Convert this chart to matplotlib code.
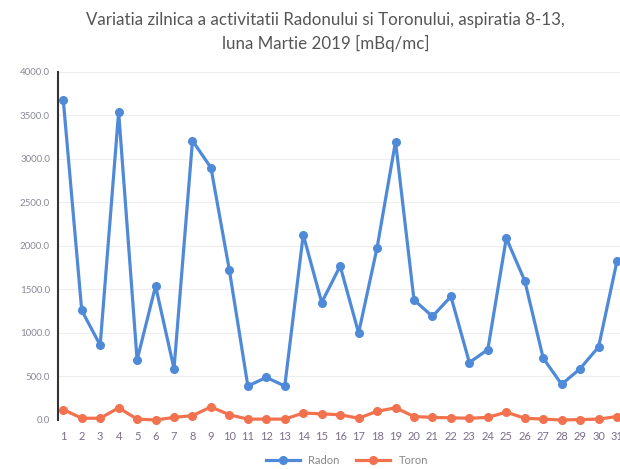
import matplotlib
matplotlib.use("Agg")
import matplotlib.pyplot as plt
from matplotlib.ticker import FormatStrFormatter

days = list(range(1, 32))
radon = [3680, 1260, 860, 3540, 690, 1540, 590, 3210, 2900, 1720,
         390, 490, 390, 2130, 1350, 1770, 1000, 1980, 3200, 1380,
         1190, 1420, 660, 810, 2090, 1600, 710, 410, 590, 840, 1830]
toron = [120, 20, 20, 140, 10, 0, 30, 50, 150, 60,
         10, 10, 10, 80, 70, 60, 20, 100, 140, 40,
         30, 25, 20, 30, 90, 20, 10, 0, 5, 10, 40]
yticks = [0, 500, 1000, 1500, 2000, 2500, 3000, 3500, 4000]
title = "Variatia zilnica a activitatii Radonului si Toronului, aspiratia 8-13,\nluna Martie 2019 [mBq/mc]"

plt.rcParams['font.family'] = ['Lato', 'DejaVu Sans']

fig = plt.figure(figsize=(6.2, 4.69), dpi=100)
ax = fig.add_axes([0.094, 0.1045, 0.906, 0.742])

blue = '#4f8ad8'
orange = '#f2724f'
ax.plot(days, radon, color=blue, lw=2.3, marker='o', ms=5.5, label='Radon', clip_on=False, zorder=3)
ax.plot(days, toron, color=orange, lw=2.3, marker='o', ms=5.5, label='Toron', clip_on=False, zorder=3)

ax.set_xlim(0.73, 31.16)
ax.set_ylim(0, 4000)
ax.set_yticks(yticks)
ax.yaxis.set_major_formatter(FormatStrFormatter('%.1f'))
ax.set_xticks(days)
ax.set_xticklabels([str(d) for d in days])
ax.tick_params(axis='y', colors='#8a8a9a', labelsize=7, length=0, pad=6)
ax.tick_params(axis='x', colors='#7a6f8a', labelsize=8, length=0, pad=8)
ax.grid(axis='y', color='#eeeeee', lw=0.8)
ax.set_axisbelow(True)
for s in ['top', 'right', 'bottom']:
    ax.spines[s].set_visible(False)
ax.spines['left'].set_color('#333333')
ax.spines['left'].set_linewidth(1.5)

fig.suptitle(title, x=0.525, y=0.975, fontsize=12.2, color='#555555', linespacing=1.55)

fig.legend(loc='lower center', bbox_to_anchor=(0.56, -0.015), ncol=2, frameon=False,
           fontsize=8, labelcolor='#888888', handlelength=3, columnspacing=1.5)

fig.savefig('out.png', dpi=100)
